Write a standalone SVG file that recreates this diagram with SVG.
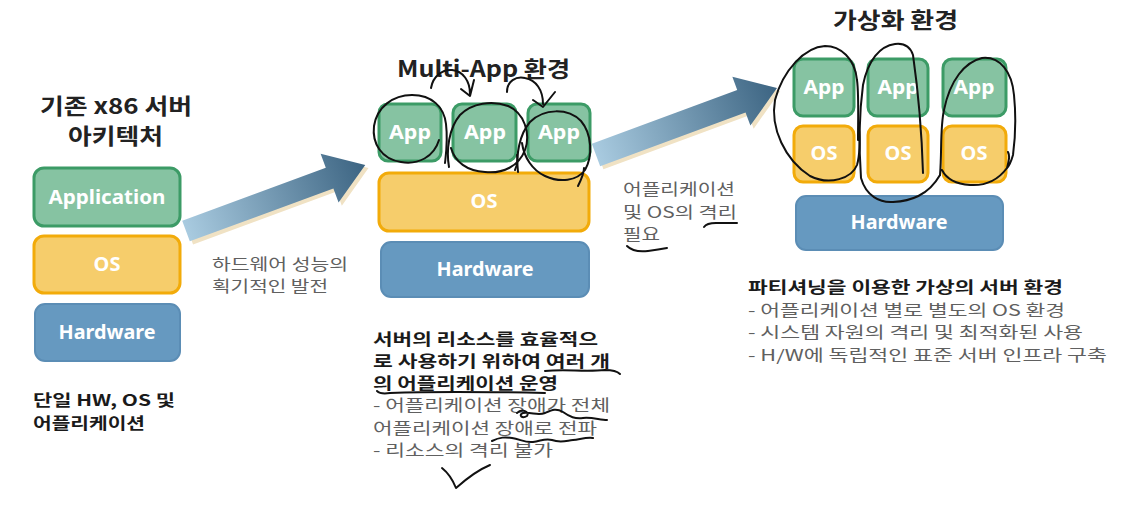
<svg xmlns="http://www.w3.org/2000/svg" width="1133" height="514" viewBox="0 0 1133 514">
<defs>
<style>
.app{fill:#86c3a2;stroke:#3c9b66;stroke-width:3}
.os{fill:#f6cd6b;stroke:#f2ab0a;stroke-width:3}
.hw{fill:#6699c0;stroke:#5b8db5;stroke-width:2}
.bt{font-family:"Noto Sans","Noto Sans CJK KR",sans-serif;font-weight:bold;fill:#fff;text-anchor:middle;font-size:20px}
.title{font-family:"Noto Sans CJK KR","Noto Sans",sans-serif;font-weight:bold;fill:#222;font-size:22px}
.bold{font-family:"Noto Sans CJK KR","Noto Sans",sans-serif;font-weight:bold;fill:#1a1a1a;font-size:15.5px}
.gray{font-family:"Noto Sans CJK KR","Noto Sans",sans-serif;fill:#606060;font-size:15.5px}
.ink{fill:none;stroke:#111;stroke-width:2;stroke-linecap:round;stroke-linejoin:round}
</style>
<linearGradient id="ag" x1="0" y1="0" x2="1" y2="0">
<stop offset="0" stop-color="#a9cbe0"/>
<stop offset="1" stop-color="#3c6482"/>
</linearGradient>
</defs>
<rect width="1133" height="514" fill="#fff"/>

<g id="legacy">
<text class="title" x="40" y="114" font-size="21" textLength="152" lengthAdjust="spacingAndGlyphs">기존 x86 서버</text>
<text class="title" x="68" y="144" font-size="21" textLength="95" lengthAdjust="spacingAndGlyphs">아키텍처</text>
<g id="legacy-app"><rect class="app" x="34" y="168" width="146" height="58" rx="10"/><text class="bt" x="107" y="204" textLength="117" lengthAdjust="spacingAndGlyphs">Application</text></g>
<g id="legacy-os"><rect class="os" x="34" y="236" width="146" height="57" rx="10"/><text class="bt" x="107" y="271">OS</text></g>
<g id="legacy-hw"><rect class="hw" x="35" y="304" width="145" height="57" rx="10"/><text class="bt" x="107" y="339" textLength="97" lengthAdjust="spacingAndGlyphs">Hardware</text></g>
<text class="bold" x="33" y="406" textLength="142" lengthAdjust="spacingAndGlyphs">단일 HW, OS 및</text>
<text class="bold" x="33" y="429" textLength="112" lengthAdjust="spacingAndGlyphs">어플리케이션</text>
</g>

<g id="multi">
<text class="title" x="397" y="77" textLength="173" lengthAdjust="spacingAndGlyphs">Multi-App 환경</text>
<g id="multi-app1"><rect class="app" x="379" y="104" width="62" height="57" rx="9"/><text class="bt" x="410" y="139" textLength="42" lengthAdjust="spacingAndGlyphs">App</text></g>
<g id="multi-app2"><rect class="app" x="453" y="104" width="63" height="57" rx="9"/><text class="bt" x="485" y="139" textLength="42" lengthAdjust="spacingAndGlyphs">App</text></g>
<g id="multi-app3"><rect class="app" x="528" y="104" width="62" height="57" rx="9"/><text class="bt" x="559" y="139" textLength="42" lengthAdjust="spacingAndGlyphs">App</text></g>
<g id="multi-os"><rect class="os" x="379" y="173" width="210" height="58" rx="10"/><text class="bt" x="484" y="208">OS</text></g>
<g id="multi-hw"><rect class="hw" x="381" y="242" width="208" height="55" rx="10"/><text class="bt" x="485" y="276" textLength="97" lengthAdjust="spacingAndGlyphs">Hardware</text></g>
<text class="bold" x="373" y="345" textLength="225" lengthAdjust="spacingAndGlyphs">서버의 리소스를 효율적으</text>
<text class="bold" x="373" y="367" textLength="237" lengthAdjust="spacingAndGlyphs">로 사용하기 위하여 여러 개</text>
<text class="bold" x="373" y="389" textLength="185" lengthAdjust="spacingAndGlyphs">의 어플리케이션 운영</text>
<text class="gray" x="373" y="411" textLength="237" lengthAdjust="spacingAndGlyphs">- 어플리케이션 장애가 전체</text>
<text class="gray" x="373" y="434" textLength="224" lengthAdjust="spacingAndGlyphs">어플리케이션 장애로 전파</text>
<text class="gray" x="373" y="456" textLength="180" lengthAdjust="spacingAndGlyphs">- 리소스의 격리 불가</text>
</g>

<g id="virtual">
<text class="title" x="833" y="28" textLength="125" lengthAdjust="spacingAndGlyphs">가상화 환경</text>
<g id="v-app1"><rect class="app" x="794" y="59" width="60" height="57" rx="9"/><text class="bt" x="824" y="94" textLength="41" lengthAdjust="spacingAndGlyphs">App</text></g>
<g id="v-app2"><rect class="app" x="868" y="59" width="60" height="57" rx="9"/><text class="bt" x="898" y="94" textLength="41" lengthAdjust="spacingAndGlyphs">App</text></g>
<g id="v-app3"><rect class="app" x="943" y="59" width="63" height="57" rx="9"/><text class="bt" x="974" y="94" textLength="41" lengthAdjust="spacingAndGlyphs">App</text></g>
<g id="v-os1"><rect class="os" x="794" y="126" width="60" height="56" rx="9"/><text class="bt" x="824" y="160">OS</text></g>
<g id="v-os2"><rect class="os" x="868" y="126" width="60" height="56" rx="9"/><text class="bt" x="898" y="160">OS</text></g>
<g id="v-os3"><rect class="os" x="943" y="126" width="63" height="56" rx="9"/><text class="bt" x="974" y="160">OS</text></g>
<g id="v-hw"><rect class="hw" x="796" y="196" width="207" height="54" rx="10"/><text class="bt" x="899" y="229" textLength="97" lengthAdjust="spacingAndGlyphs">Hardware</text></g>
<text class="bold" x="748" y="293" textLength="315" lengthAdjust="spacingAndGlyphs">파티셔닝을 이용한 가상의 서버 환경</text>
<text class="gray" x="748" y="316" textLength="317" lengthAdjust="spacingAndGlyphs">- 어플리케이션 별로 별도의 OS 환경</text>
<text class="gray" x="748" y="338" textLength="335" lengthAdjust="spacingAndGlyphs">- 시스템 자원의 격리 및 최적화된 사용</text>
<text class="gray" x="748" y="361" textLength="359" lengthAdjust="spacingAndGlyphs">- H/W에 독립적인 표준 서버 인프라 구축</text>
</g>

<g id="connectors">
<g transform="translate(186,231) rotate(-20.2)">
<polygon points="0,-11 153,-11 153,-26 191,0 153,26 153,11 0,11" fill="#f0e2c4" transform="translate(2,4)"/>
<polygon points="0,-11 153,-11 153,-26 191,0 153,26 153,11 0,11" fill="url(#ag)"/>
</g>
<text class="gray" x="212" y="270" textLength="136" lengthAdjust="spacingAndGlyphs">하드웨어 성능의</text>
<text class="gray" x="212" y="292" textLength="116" lengthAdjust="spacingAndGlyphs">획기적인 발전</text>
<g transform="translate(596,155) rotate(-20.3)">
<polygon points="0,-12 155,-12 155,-26 193,0 155,26 155,12 0,12" fill="#f0e2c4" transform="translate(2,4)"/>
<polygon points="0,-12 155,-12 155,-26 193,0 155,26 155,12 0,12" fill="url(#ag)"/>
</g>
<text class="gray" x="623" y="195" textLength="112" lengthAdjust="spacingAndGlyphs">어플리케이션</text>
<text class="gray" x="623" y="218" textLength="114" lengthAdjust="spacingAndGlyphs">및 OS의 격리</text>
<text class="gray" x="623" y="240" textLength="37" lengthAdjust="spacingAndGlyphs">필요</text>
</g>

<g id="annotations">
<path class="ink" d="M439,140 C434,157 418,165 401,162 C381,159 372,143 374,126 C377,107 393,95 412,95 C432,95 444,107 446,124 C448,141 446,154 445,163"/>
<path class="ink" d="M431,88 C433,76 443,69 452,70 C463,71 470,81 470,94 M461,89 L470,96 L474,80"/>
<path class="ink" d="M449,167 C446,150 449,128 460,115 C472,103 492,100 508,106 C524,113 531,133 525,150 C519,166 503,174 485,172 C467,171 455,162 451,148 M517,155 C518,162 517,166 515,170"/>
<path class="ink" d="M507,92 C507,81 516,76 525,78 C536,80 543,90 543,104 M533,100 L543,107 L555,92"/>
<path class="ink" d="M518,172 C516,155 519,135 530,122 C544,108 568,108 581,121 C592,134 593,156 585,170 C577,181 560,183 545,176 C532,170 524,157 522,143 M578,186 C582,178 584,172 584,168"/>
<path class="ink" d="M858,140 C858,120 859,95 857,80 C855,58 840,46 825,46 C805,47 783,70 775,100 C770,128 785,160 810,176 C830,186 852,178 857,165 C860,155 860,140 859,125"/>
<path class="ink" d="M923,173 C922,140 918,90 913,55 C910,46 903,43 895,44 C880,46 868,60 863,85 C859,115 859,150 861,178 C866,196 880,203 893,202 C910,201 928,196 940,175"/>
<path class="ink" d="M940,175 C942,150 940,128 944,110 C950,80 965,62 982,58 C1000,56 1012,72 1014,95 C1016,115 1015,140 1013,155 C1011,162 1009,166 1007,168 C1009,160 1010,156 1008,152 M1007,168 C998,180 985,186 970,185 C955,184 946,178 942,170"/>
<path class="ink" d="M545,371 C565,369 585,372 605,370 C612,370 617,371 620,374"/>
<path class="ink" d="M377,391 C380,394 384,394 390,393 C440,391 500,392 545,393"/>
<path class="ink" d="M517,413 C522,408 530,412 527,416 C522,419 518,415 523,413 C532,412 538,416 545,413 C552,410 556,408 563,412 C570,417 575,419 583,418 C592,417 600,420 607,420"/>
<path class="ink" d="M492,441 C500,437 505,437 512,438 C520,439 525,443 533,442 C541,441 545,438 552,440 C560,443 565,441 573,440 C581,439 587,437 593,438"/>
<path class="ink" d="M442,468 C447,472 452,478 456,488 C465,480 478,470 490,465"/>
<path class="ink" d="M704,227 C706,224 710,223 716,223 C724,223 731,223 737,223"/>
<path class="ink" d="M627,246 C632,251 640,252 648,251 C656,250 662,249 667,248"/>
</g>
</svg>
